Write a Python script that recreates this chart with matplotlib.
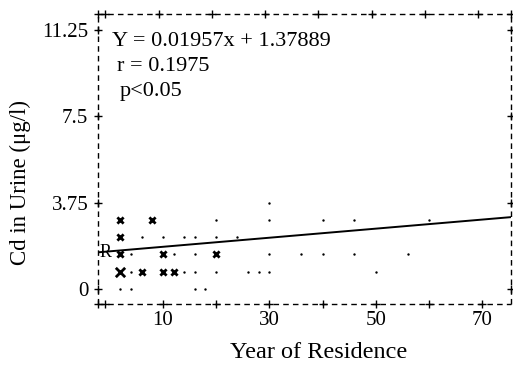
import matplotlib
matplotlib.use("Agg")
import matplotlib.pyplot as plt
import numpy as np

plt.rcParams['font.family'] = ['Liberation Serif', 'DejaVu Serif']

# readings grouped by plotting symbol (SAS printer plot style)
dot_x = [30, 20, 30, 40, 46, 60, 6, 10, 14, 16, 20, 24, 4, 12, 16, 30, 36, 40, 46, 56,
         4, 14, 16, 20, 26, 28, 30, 50, 2, 4, 16, 18]
dot_y = [3.75, 3.0, 3.0, 3.0, 3.0, 3.0, 2.25, 2.25, 2.25, 2.25, 2.25, 2.25, 1.5, 1.5, 1.5, 1.5, 1.5, 1.5, 1.5, 1.5,
         0.75, 0.75, 0.75, 0.75, 0.75, 0.75, 0.75, 0.75, 0, 0, 0, 0]
x2_x = [2, 8, 2, 2, 10, 20, 6, 10, 12]   # 'x' : two obs
x2_y = [3.0, 3.0, 2.25, 1.5, 1.5, 1.5, 0.75, 0.75, 0.75]
big_x = [2]                               # 'X' : many obs
big_y = [0.75]

# fitted line as drawn
fit_x = [-2.2, 75.4]
fit_y = [1.59, 3.12]

xticks = [10, 20, 30, 40, 50, 60, 70]
xlabels = ['10', '', '30', '', '50', '', '70']
yticks = [0, 3.75, 7.5, 11.25]
ylabels = ['0', '3.75', '7.5', '11.25']

fig = plt.figure(figsize=(5.13, 3.67), dpi=100)
ax = fig.add_axes([0.191, 0.172, 0.805, 0.790])
xlo, xhi = -2.2, 75.4
ylo, yhi = -0.65, 11.95
ax.set_xlim(xlo, xhi)
ax.set_ylim(ylo, yhi)

for s in ax.spines.values():
    s.set_visible(False)

# dashed frame
dash = (0, (4, 3))
kw = dict(color='black', lw=1.0, linestyle=dash, clip_on=False)
ax.plot([xlo, xhi], [ylo, ylo], **kw)
ax.plot([xlo, xhi], [yhi, yhi], **kw)
ax.plot([xlo, xlo], [ylo, yhi], **kw)
ax.plot([xhi, xhi], [ylo, yhi], **kw)

# '+' tick marks on the frame
pk = dict(marker='+', color='black', ms=6, mew=1.0, ls='none', clip_on=False)
bx = [xlo, -0.9] + xticks
ax.plot(bx, [ylo] * len(bx), **pk)
tx = [xlo, -0.9] + [t - 0.8 for t in xticks] + [xhi]
ax.plot(tx, [yhi] * len(tx), **pk)
ax.plot([xlo] * len(yticks), yticks, **pk)
ax.plot([xhi] * len(yticks), yticks, **pk)

ax.set_xticks(xticks)
ax.set_xticklabels(xlabels)
ax.set_yticks(yticks)
ax.set_yticklabels(ylabels)
ax.tick_params(length=0, labelsize=15)
ax.tick_params(axis='x', pad=5)
ax.tick_params(axis='y', pad=7)

ax.set_xlabel('Year of Residence', fontsize=17.5)
ax.xaxis.set_label_coords(0.535, -0.13)
ax.set_ylabel('Cd in Urine (μg/l)', fontsize=16.5)
ax.yaxis.set_label_coords(-0.163, 0.42)

# data symbols
ax.scatter(dot_x, dot_y, s=3, color='black', marker='o', lw=0)
ax.scatter(x2_x, x2_y, s=20, color='black', marker='x', lw=2.0)
ax.scatter(big_x, big_y, s=45, color='black', marker='x', lw=2.0)

ax.plot(fit_x, fit_y, color='black', lw=1.4)
ax.text(-2.0, 1.59, 'R', fontsize=13, va='center', ha='left')

ax.text(0.4, 10.75, 'Y = 0.01957x + 1.37889', fontsize=16, va='center')
ax.text(1.4, 9.65, 'r = 0.1975', fontsize=16, va='center')
ax.text(1.8, 8.6, 'p<0.05', fontsize=16, va='center')

fig.savefig('out.png', dpi=100)
